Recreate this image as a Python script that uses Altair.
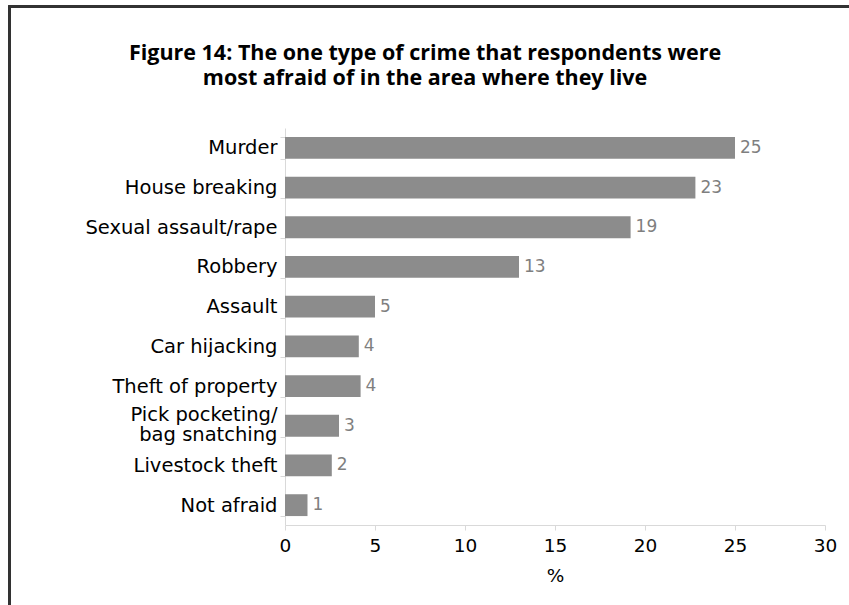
import altair as alt
import pandas as pd

categories = ["Murder", "House breaking", "Sexual assault/rape", "Robbery", "Assault",
              "Car hijacking", "Theft of property", "Pick pocketing/ bag snatching",
              "Livestock theft", "Not afraid"]
values = [25.0, 22.8, 19.2, 13.0, 5.0, 4.1, 4.2, 3.0, 2.6, 1.25]
value_labels = ["25", "23", "19", "13", "5", "4", "4", "3", "2", "1"]
x_ticks = [0, 5, 10, 15, 20, 25, 30]
title_lines = ["Figure 14: The one type of crime that respondents were",
               "most afraid of in the area where they live"]

df = pd.DataFrame({"cat": categories, "val": values, "lab": value_labels})

FONT = "DejaVu Sans"
TFONT = "Open Sans"

y_enc = alt.Y("cat:N", sort=categories, title=None,
              scale=alt.Scale(paddingInner=0.45, paddingOuter=0.225),
              axis=alt.Axis(tickBand="extent", domainColor="#d9d9d9", tickColor="#d9d9d9",
                            tickSize=5, labelPadding=3, labelFontSize=19.5, labelColor="#000000",
                            labelFont=FONT, labelLineHeight=20, labelLimit=400,
                            labelOffset={"condition": {"test": "datum.value == 'Pick pocketing/ bag snatching'",
                                                       "value": -11}, "value": 0},
                            labelExpr="datum.label == 'Pick pocketing/ bag snatching' ? ['Pick pocketing/', 'bag snatching'] : datum.label"))
x_enc = alt.X("val:Q", title="%",
              scale=alt.Scale(domain=[0, 30], nice=False),
              axis=alt.Axis(values=x_ticks, grid=False, domainColor="#d9d9d9", tickColor="#d9d9d9",
                            tickSize=5, labelFontSize=18.5, labelColor="#000000", labelFont=FONT,
                            labelFlush=False,
                            labelPadding=6, titleFont=FONT, titleFontSize=18.5, titleFontWeight="normal",
                            titleColor="#000000", titlePadding=12))

bars = alt.Chart(df).mark_bar(color="#8c8c8c").encode(x=x_enc, y=y_enc)
texts = alt.Chart(df).mark_text(align="left", baseline="middle", dx=5, fontSize=17,
                                font=FONT, color="#7f7f7f").encode(
    x="val:Q", y=alt.Y("cat:N", sort=categories), text="lab:N")

t1 = alt.Chart(pd.DataFrame({"t": [title_lines[0]]})).mark_text(
    align="center", baseline="alphabetic", font=TFONT, fontSize=21.5, fontWeight="bold",
    color="#000000").encode(text="t:N", x=alt.value(140), y=alt.value(-68))
t2 = alt.Chart(pd.DataFrame({"t": [title_lines[1]]})).mark_text(
    align="center", baseline="alphabetic", font=TFONT, fontSize=21.5, fontWeight="bold",
    color="#000000").encode(text="t:N", x=alt.value(140), y=alt.value(-43))

frame_left = alt.Chart(df).mark_rule(color="#333333", strokeWidth=2).encode(
    x=alt.value(-275.5), y=alt.value(-121.5), y2=alt.value(480))
frame_top = alt.Chart(df).mark_rule(color="#333333", strokeWidth=2).encode(
    x=alt.value(-276.5), x2=alt.value(570), y=alt.value(-121.5))

chart = alt.layer(bars, texts, t1, t2, frame_left, frame_top).properties(
    width=540, height=397,
    autosize=alt.AutoSizeParams(type="none"),
    padding={"left": 285, "top": 128, "right": 24, "bottom": 80},
).configure_view(stroke=None)

chart.save("out.html", embed_options={"renderer": "svg", "actions": False})
